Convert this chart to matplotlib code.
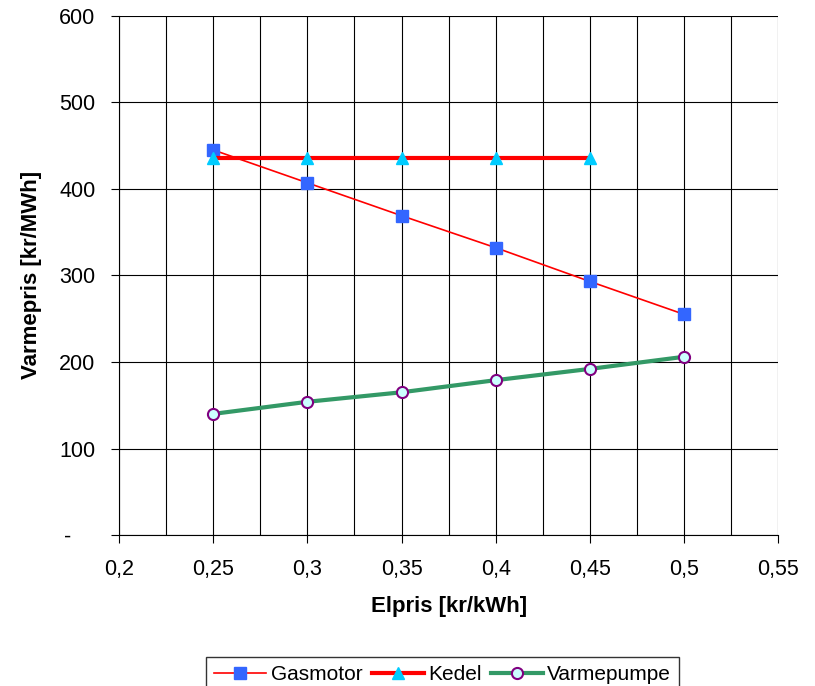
import matplotlib
matplotlib.use("Agg")
import matplotlib.pyplot as plt
from matplotlib.ticker import MultipleLocator, FuncFormatter

plt.rcParams["font.family"] = ["Liberation Sans", "DejaVu Sans"]

elpris = [0.25, 0.3, 0.35, 0.4, 0.45, 0.5]
gasmotor = [445, 407, 369, 332, 293, 255]
kedel_x = [0.25, 0.3, 0.35, 0.4, 0.45]
kedel = [436, 436, 436, 436, 436]
varmepumpe = [140, 154, 165, 179, 192, 206]

fig = plt.figure(figsize=(8.15, 6.86), dpi=100)
ax = fig.add_axes([0.146, 0.22, 0.809, 0.757])

ax.plot(elpris, gasmotor, color="red", lw=1.2, marker="s", ms=8,
        mfc="#3366FF", mec="#3366FF", label="Gasmotor", zorder=3)
ax.plot(kedel_x, kedel, color="red", lw=3, marker="^", ms=9,
        mfc="#00CCFF", mec="#00CCFF", label="Kedel", zorder=3)
ax.plot(elpris, varmepumpe, color="#339966", lw=3, marker="o", ms=8,
        mfc="#CCFFFF", mec="#800080", mew=1.5, label="Varmepumpe", zorder=3)

ax.set_xlim(0.2, 0.55)
ax.set_ylim(0, 600)
ax.xaxis.set_major_locator(MultipleLocator(0.05))
ax.xaxis.set_minor_locator(MultipleLocator(0.025))
ax.yaxis.set_major_locator(MultipleLocator(100))
ax.xaxis.set_major_formatter(FuncFormatter(lambda v, p: f"{v:.2f}".rstrip("0").replace(".", ",")))
# Excel accounting style: zero shown as a dash, set off to the left
ax.yaxis.set_major_formatter(FuncFormatter(lambda v, p: "-    " if abs(v) < 1e-9 else f"{v:.0f}"))
ax.grid(which="both", axis="x", color="black", lw=0.8)
ax.grid(which="major", axis="y", color="black", lw=0.8)
ax.tick_params(which="major", direction="out", length=6, labelsize=15.5, pad=11)
ax.tick_params(which="minor", length=0)
ax.tick_params(axis="y", pad=11)
for s in ["top", "right"]:
    ax.spines[s].set_visible(False)
ax.spines["left"].set_color("black")
ax.spines["bottom"].set_color("black")

ax.set_xlabel("Elpris [kr/kWh]", fontsize=16, fontweight="bold", labelpad=12)
ax.set_ylabel("Varmepris [kr/MWh]", fontsize=16, fontweight="bold", labelpad=12)

fig.legend(loc="lower center", bbox_to_anchor=(0.543, -0.025), ncol=3, fontsize=15,
           frameon=True, fancybox=False, edgecolor="black", handlelength=2.5,
           handletextpad=0.2, columnspacing=0.45, borderpad=0.4)

fig.savefig("out.png", dpi=100)
